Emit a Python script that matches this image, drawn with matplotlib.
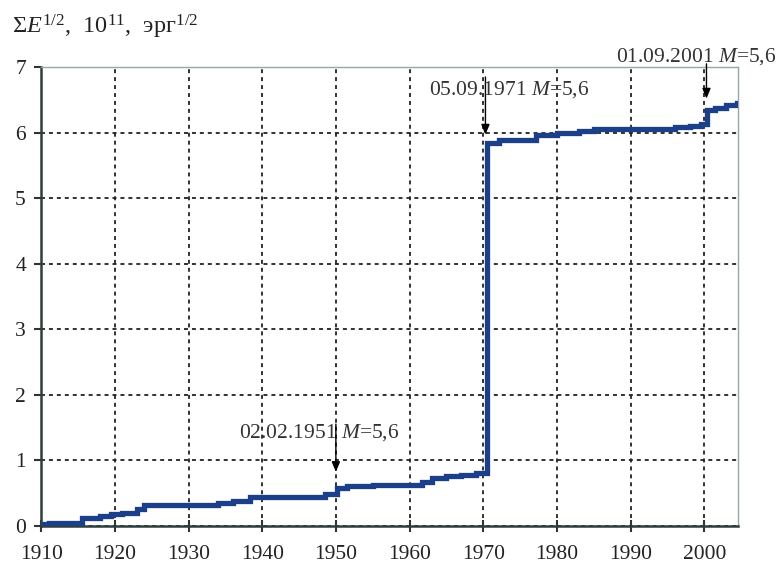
import matplotlib
matplotlib.use('Agg')
import matplotlib.pyplot as plt

plt.rcParams['font.family'] = ['Liberation Serif', 'DejaVu Serif']
plt.rcParams['mathtext.fontset'] = 'custom'
plt.rcParams['mathtext.rm'] = 'Liberation Serif'
plt.rcParams['mathtext.it'] = 'Liberation Serif:italic'

# cumulative released energy, step changes (year, value)
years = [1910, 1911, 1915.5, 1918, 1919.5, 1921, 1923, 1924, 1934, 1936, 1938.3,
         1948.5, 1950.2, 1951.5, 1955, 1960, 1961.7, 1963, 1965, 1967, 1969,
         1970.5, 1972.2, 1977.2, 1980, 1983, 1985, 1990, 1996, 1998, 1999.5,
         2000.4, 2001.5, 2003, 2004.5]
values = [0.02, 0.04, 0.12, 0.15, 0.18, 0.2, 0.26, 0.32, 0.35, 0.38, 0.44,
          0.48, 0.58, 0.60, 0.62, 0.62, 0.66, 0.73, 0.76, 0.78, 0.80,
          5.84, 5.88, 5.97, 5.99, 6.02, 6.05, 6.06, 6.08, 6.10, 6.13,
          6.34, 6.38, 6.42, 6.45]

# labelled events: text, arrow x, arrow tip y, arrow tail y, text x, text y
events = ['02.02.1951 $M$=5,6', '05.09.1971 $M$=5,6', '01.09.2001 $M$=5,6']
event_x = [1950.0, 1970.3, 2000.3]
tip_y = [0.82, 5.97, 6.52]
tail_y = [1.55, 6.85, 7.05]
text_x = [1936.9, 1962.7, 1988.0]
text_y = [1.42, 6.66, 7.16]

xticks = list(range(1910, 2001, 10))
yticks = list(range(0, 8))

fig = plt.figure(figsize=(7.77, 5.64), dpi=100)
ax = fig.add_axes([0.053, 0.068, 0.897, 0.813])

ax.plot(years, values, drawstyle='steps-post', color='#1c3f8a', lw=3.8,
        solid_joinstyle='miter', zorder=3)

ax.set_xlim(1910, 2004.6)
ax.set_ylim(0, 7)
ax.set_xticks(xticks)
ax.set_yticks(yticks)
ax.grid(True, color='#222222', linestyle=(0, (2.2, 2.2)), lw=1.3, zorder=1)

ax.tick_params(axis='both', labelsize=15.5, colors='#333333', width=1.5,
               length=8, direction='inout')
ax.tick_params(axis='y', direction='out', length=5, pad=6)
ax.tick_params(axis='x', pad=10)
for lab in ax.get_xticklabels() + ax.get_yticklabels():
    lab.set_color('#222222')

for side in ['left', 'bottom']:
    ax.spines[side].set_color('#2f3d3d')
    ax.spines[side].set_linewidth(1.8)
for side in ['top', 'right']:
    ax.spines[side].set_color('#9aa6a6')
    ax.spines[side].set_linewidth(1.0)

for t, x, ty, yy, tx, tyy in zip(events, event_x, tip_y, tail_y, text_x, text_y):
    ax.annotate('', xy=(x, ty), xytext=(x, yy),
                arrowprops=dict(arrowstyle='-|>,head_length=0.6,head_width=0.25',
                                color='black', lw=1.0, shrinkA=0, shrinkB=0),
                annotation_clip=False, zorder=4)
    ax.text(tx, tyy, t, fontsize=15.5, color='#333333', va='center', ha='left',
            clip_on=False, zorder=5)

fig.text(0.015, 0.952, r'$\Sigma E^{1/2}$,  $10^{11}$,  эрг$^{1/2}$',
         fontsize=17.5, color='#222222', va='center', ha='left')

fig.savefig('out.png', dpi=100)
